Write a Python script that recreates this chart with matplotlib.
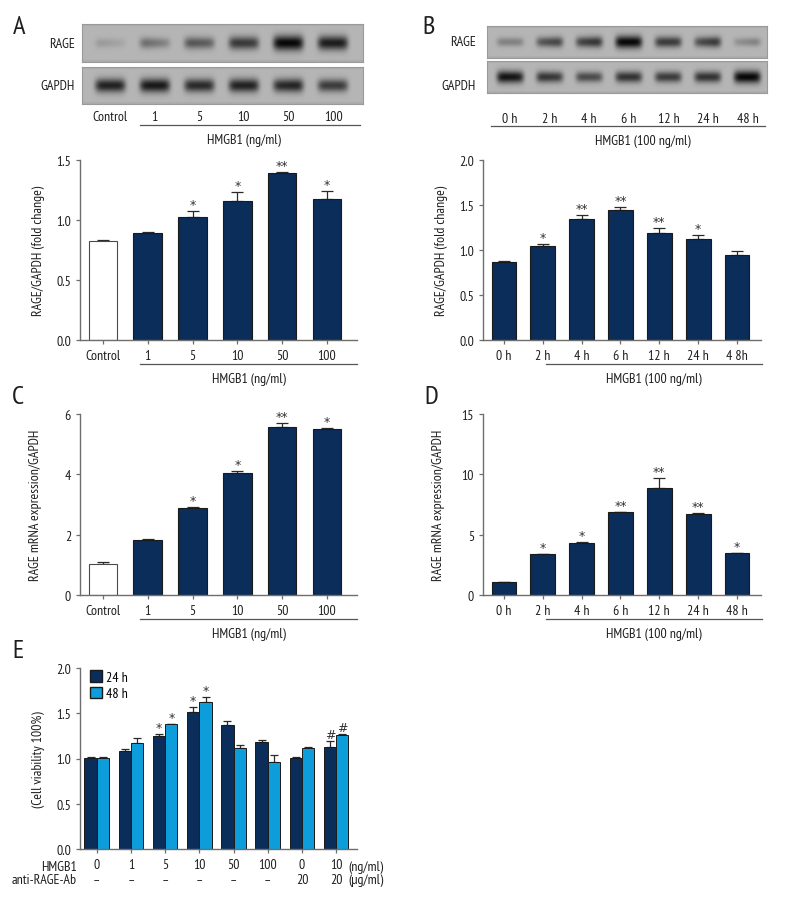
import numpy as np
import matplotlib
matplotlib.use("Agg")
import matplotlib.pyplot as plt
from matplotlib.transforms import blended_transform_factory
from matplotlib.patches import Patch

plt.rcParams['font.family'] = ['PT Sans Narrow', 'Fira Sans Condensed', 'Roboto Condensed',
                               'Liberation Sans', 'DejaVu Sans']
plt.rcParams['font.size'] = 10

W, H = 792, 912
NAVY = '#0b2d5a'
CYAN = '#0d9ddb'
AXC = '#6e6e6e'
TXT = '#1e1e1e'
FS = 10

# ---- data ----
dose_labels = ['Control', '1', '5', '10', '50', '100']
time_labels = ['0 h', '2 h', '4 h', '6 h', '12 h', '24 h', '48 h']
time_labels_b = ['0 h', '2 h', '4 h', '6 h', '12 h', '24 h', '4 8h']

a_vals = [0.82, 0.89, 1.02, 1.16, 1.39, 1.17]
a_err = [0.01, 0.005, 0.05, 0.07, 0.005, 0.07]
a_sig = ['', '', '*', '*', '**', '*']

b_vals = [0.87, 1.04, 1.34, 1.44, 1.19, 1.12, 0.94]
b_err = [0.01, 0.02, 0.05, 0.04, 0.05, 0.04, 0.05]
b_sig = ['', '*', '**', '**', '**', '*', '']

c_vals = [1.03, 1.82, 2.90, 4.03, 5.57, 5.50]
c_err = [0.07, 0.02, 0.03, 0.08, 0.12, 0.05]
c_sig = ['', '', '*', '*', '**', '*']

d_vals = [1.05, 3.40, 4.35, 6.85, 8.90, 6.75, 3.45]
d_err = [0.03, 0.03, 0.02, 0.06, 0.80, 0.02, 0.03]
d_sig = ['', '*', '*', '**', '**', '**', '*']

e_hmgb1 = ['0', '1', '5', '10', '50', '100', '0', '10']
e_ab = ['–', '–', '–', '–', '–', '–', '20', '20']
e_24 = [1.01, 1.08, 1.25, 1.51, 1.37, 1.18, 1.01, 1.13]
e_24_err = [0.005, 0.02, 0.02, 0.06, 0.04, 0.02, 0.005, 0.06]
e_48 = [1.01, 1.17, 1.38, 1.62, 1.12, 0.96, 1.12, 1.26]
e_48_err = [0.005, 0.06, 0.005, 0.06, 0.03, 0.08, 0.005, 0.015]
e_sig_24 = ['', '', '*', '*', '', '', '', '#']
e_sig_48 = ['', '', '*', '*', '', '', '', '#']

# blot band intensities (left half, right half of each lane)
blot_a_rage = [(0.16, 0.10), (0.42, 0.30), (0.55, 0.50), (0.72, 0.70), (1.0, 1.0), (0.88, 0.88)]
blot_a_gapdh = [(0.85, 0.85), (0.90, 0.90), (0.80, 0.80), (0.85, 0.85), (0.80, 0.85), (0.70, 0.70)]
blot_b_rage = [(0.30, 0.30), (0.55, 0.65), (0.65, 0.75), (1.0, 1.0), (0.70, 0.70), (0.60, 0.72), (0.22, 0.30)]
blot_b_gapdh = [(0.95, 0.90), (0.75, 0.70), (0.62, 0.60), (0.75, 0.75), (0.70, 0.70), (0.75, 0.75), (1.0, 1.0)]


def rect(l, t, r, b):
    return [l / W, 1 - b / H, (r - l) / W, (b - t) / H]


fig = plt.figure(figsize=(W / 100, H / 100), dpi=100)


def style(ax):
    for s in ['top', 'right']:
        ax.spines[s].set_visible(False)
    for s in ['left', 'bottom']:
        ax.spines[s].set_color(AXC)
        ax.spines[s].set_linewidth(1.0)
    ax.tick_params(colors=AXC, labelcolor=TXT, length=3, width=0.9, labelsize=FS)


def star(ax, x, y, s):
    ax.annotate(s, (x, y), xytext=(0, 0), textcoords='offset points', ha='center', va='bottom',
                fontsize=9, color='#333333', family=['DejaVu Sans'])


def bars(ax, vals, err, sig, first_white):
    x = np.arange(len(vals))
    cols = [NAVY] * len(vals)
    if first_white:
        cols[0] = 'white'
    ax.bar(x, vals, width=0.64, color=cols, edgecolor=['#4a4a4a' if c == 'white' else '#1a1a1a' for c in cols],
           linewidth=0.8, zorder=2)
    ax.errorbar(x, vals, yerr=[np.zeros(len(vals)), err], fmt='none', ecolor='#2a2a2a',
                elinewidth=0.9, capsize=4.5, capthick=0.9, zorder=1)
    for xi, v, e, s in zip(x, vals, err, sig):
        if s:
            star(ax, xi, v + e, s)


def group_line(ax, x0, x1, label):
    tr = blended_transform_factory(ax.transData, ax.transAxes)
    ax.plot([x0, x1], [-0.135, -0.135], color='#555555', lw=0.9, transform=tr, clip_on=False)
    ax.text((x0 + x1) / 2, -0.215, label, transform=tr, ha='center', va='center', fontsize=FS, color=TXT)


def blot(ax, bands, xlim):
    x = np.linspace(xlim[0], xlim[1], 400)
    y = np.linspace(0, 1, 60)
    X, Y = np.meshgrid(x, y)
    dark = np.zeros_like(X)
    for i, (a, b) in enumerate(bands):
        frac = np.clip((X - i + 0.2) / 0.4, 0, 1)
        v = a + (b - a) * frac
        hprof = np.exp(-((X - i) / 0.34) ** 6)
        sig = 0.08 + 0.06 * v
        vprof = np.exp(-0.5 * ((Y - 0.5) / sig) ** 2)
        dark += v * hprof * vprof
    img = 0.71 - 0.68 * np.clip(dark, 0, 1.05)
    img -= 0.04 * (np.abs(Y - 0.5) > 0.45)
    ax.imshow(img, cmap='gray', vmin=0, vmax=1, extent=(xlim[0], xlim[1], 0, 1),
              aspect='auto', interpolation='bilinear')
    ax.set_xlim(xlim)
    ax.set_ylim(0, 1)
    ax.set_xticks([])
    ax.set_yticks([])
    for s in ax.spines.values():
        s.set_color('#9a9a9a')
        s.set_linewidth(0.8)


# ---- panel A blot ----
xa = (-0.63, 5.67)
ax = fig.add_axes(rect(82, 25, 363, 63))
blot(ax, blot_a_rage, xa)
ax.text(-0.025, 0.5, 'RAGE', transform=ax.transAxes, ha='right', va='center', fontsize=FS, color=TXT)
ax = fig.add_axes(rect(82, 68, 363, 105))
blot(ax, blot_a_gapdh, xa)
ax.text(-0.025, 0.5, 'GAPDH', transform=ax.transAxes, ha='right', va='center', fontsize=FS, color=TXT)
tr = blended_transform_factory(ax.transData, ax.transAxes)
for i, lab in enumerate(dose_labels):
    ax.text(i, -0.33, lab, transform=tr, ha='center', va='center', fontsize=FS, color=TXT)
ax.plot([0.67, 5.6], [-0.57, -0.57], color='#555555', lw=0.9, transform=tr, clip_on=False)
ax.text(3.0, -0.97, 'HMGB1 (ng/ml)', transform=tr, ha='center', va='center', fontsize=FS, color=TXT)

# ---- panel B blot ----
xb = (-0.58, 6.49)
ax = fig.add_axes(rect(487, 27, 767, 59))
blot(ax, blot_b_rage, xb)
ax.text(-0.04, 0.5, 'RAGE', transform=ax.transAxes, ha='right', va='center', fontsize=FS, color=TXT)
ax = fig.add_axes(rect(487, 62, 767, 94))
blot(ax, blot_b_gapdh, xb)
ax.text(-0.04, 0.25, 'GAPDH', transform=ax.transAxes, ha='right', va='center', fontsize=FS, color=TXT)
tr = blended_transform_factory(ax.transData, ax.transAxes)
for i, lab in enumerate(time_labels):
    ax.text(i, -0.8, lab, transform=tr, ha='center', va='center', fontsize=FS, color=TXT)
ax.plot([-0.48, 6.45], [-1.03, -1.03], color='#555555', lw=0.9, transform=tr, clip_on=False)
ax.text(3.35, -1.5, 'HMGB1 (100 ng/ml)', transform=tr, ha='center', va='center', fontsize=FS, color=TXT)

# ---- panel A bars ----
ax = fig.add_axes(rect(80, 160.7, 357, 341))
style(ax)
bars(ax, a_vals, a_err, a_sig, True)
ax.set_xlim(-0.51, 5.67)
ax.set_ylim(0, 1.5)
ax.set_yticks([0, 0.5, 1.0, 1.5])
ax.set_yticklabels(['0.0', '0.5', '1.0', '1.5'])
ax.set_xticks(range(len(dose_labels)))
ax.set_xticklabels(dose_labels)
ax.set_ylabel('RAGE/GAPDH (fold change)', fontsize=FS, color=TXT, labelpad=8)
group_line(ax, 0.83, 5.67, 'HMGB1 (ng/ml)')

# ---- panel B bars ----
ax = fig.add_axes(rect(483, 160.7, 761, 341))
style(ax)
bars(ax, b_vals, b_err, b_sig, False)
ax.set_xlim(-0.54, 6.62)
ax.set_ylim(0, 2.0)
ax.set_yticks([0, 0.5, 1.0, 1.5, 2.0])
ax.set_yticklabels(['0.0', '0.5', '1.0', '1.5', '2.0'])
ax.set_xticks(range(len(time_labels_b)))
ax.set_xticklabels(time_labels_b)
ax.set_ylabel('RAGE/GAPDH (fold change)', fontsize=FS, color=TXT, labelpad=8)
group_line(ax, 1.08, 6.65, 'HMGB1 (100 ng/ml)')

# ---- panel C ----
ax = fig.add_axes(rect(80, 415, 357, 596))
style(ax)
bars(ax, c_vals, c_err, c_sig, True)
ax.set_xlim(-0.51, 5.67)
ax.set_ylim(0, 6)
ax.set_yticks([0, 2, 4, 6])
ax.set_xticks(range(len(dose_labels)))
ax.set_xticklabels(dose_labels)
ax.set_ylabel('RAGE mRNA expression/GAPDH', fontsize=FS, color=TXT, labelpad=16)
group_line(ax, 0.83, 5.67, 'HMGB1 (ng/ml)')

# ---- panel D ----
ax = fig.add_axes(rect(483, 415, 761, 596))
style(ax)
bars(ax, d_vals, d_err, d_sig, False)
ax.set_xlim(-0.54, 6.62)
ax.set_ylim(0, 15)
ax.set_yticks([0, 5, 10, 15])
ax.set_xticks(range(len(time_labels)))
ax.set_xticklabels(time_labels)
ax.set_ylabel('RAGE mRNA expression/GAPDH', fontsize=FS, color=TXT, labelpad=12)
group_line(ax, 1.08, 6.65, 'HMGB1 (100 ng/ml)')

# ---- panel E ----
ax = fig.add_axes(rect(80, 669, 357, 850))
style(ax)
x = np.arange(len(e_24))
bw = 0.36
ax.bar(x - bw / 2, e_24, width=bw, color=NAVY, edgecolor='#1a1a1a', linewidth=0.7, zorder=2)
ax.bar(x + bw / 2, e_48, width=bw, color=CYAN, edgecolor='#1a1a1a', linewidth=0.7, zorder=2)
ax.errorbar(x - bw / 2, e_24, yerr=[np.zeros(len(x)), e_24_err], fmt='none', ecolor='#2a2a2a',
            elinewidth=0.9, capsize=3, capthick=0.9, zorder=1)
ax.errorbar(x + bw / 2, e_48, yerr=[np.zeros(len(x)), e_48_err], fmt='none', ecolor='#2a2a2a',
            elinewidth=0.9, capsize=3, capthick=0.9, zorder=1)
for xi, v, e, s in zip(x - bw / 2, e_24, e_24_err, e_sig_24):
    if s:
        star(ax, xi, v + e, s)
for xi, v, e, s in zip(x + bw / 2, e_48, e_48_err, e_sig_48):
    if s:
        star(ax, xi, v + e, s)
ax.set_xlim(-0.49, 7.61)
ax.set_ylim(0, 2.0)
ax.set_yticks([0, 0.5, 1.0, 1.5, 2.0])
ax.set_yticklabels(['0.0', '0.5', '1.0', '1.5', '2.0'])
ax.set_xticks(x)
ax.set_xticklabels(e_hmgb1)
ax.set_ylabel('(Cell viability 100%)', fontsize=FS, color=TXT, labelpad=8)
tr = blended_transform_factory(ax.transData, ax.transAxes)
ax.text(-0.012, -0.094, 'HMGB1', transform=ax.transAxes, ha='right', va='center', fontsize=FS, color=TXT)
ax.text(-0.012, -0.171, 'anti-RAGE-Ab', transform=ax.transAxes, ha='right', va='center', fontsize=FS, color=TXT)
for xi, lab in zip(x, e_ab):
    ax.text(xi, -0.171, lab, transform=tr, ha='center', va='center', fontsize=FS, color=TXT)
ax.text(7.35, -0.094, '(ng/ml)', transform=tr, ha='left', va='center', fontsize=FS, color=TXT)
ax.text(7.35, -0.171, '(µg/ml)', transform=tr, ha='left', va='center', fontsize=FS, color=TXT)
ax.legend(handles=[Patch(facecolor=NAVY, edgecolor='#1a1a1a', label='24 h'),
                   Patch(facecolor=CYAN, edgecolor='#1a1a1a', label='48 h')],
          loc='upper left', bbox_to_anchor=(0.0, 1.04), frameon=False, fontsize=FS,
          handlelength=0.9, handleheight=0.9, handletextpad=0.3, labelspacing=0.2, borderaxespad=0.3)

# ---- panel letters ----
for lab, px, py in [('A', 19, 27), ('B', 429, 27), ('C', 18, 398), ('D', 431, 398), ('E', 18, 652)]:
    fig.text(px / W, 1 - py / H, lab, ha='center', va='center', fontsize=19, color=TXT)

fig.savefig('out.png', dpi=100, facecolor='white')
